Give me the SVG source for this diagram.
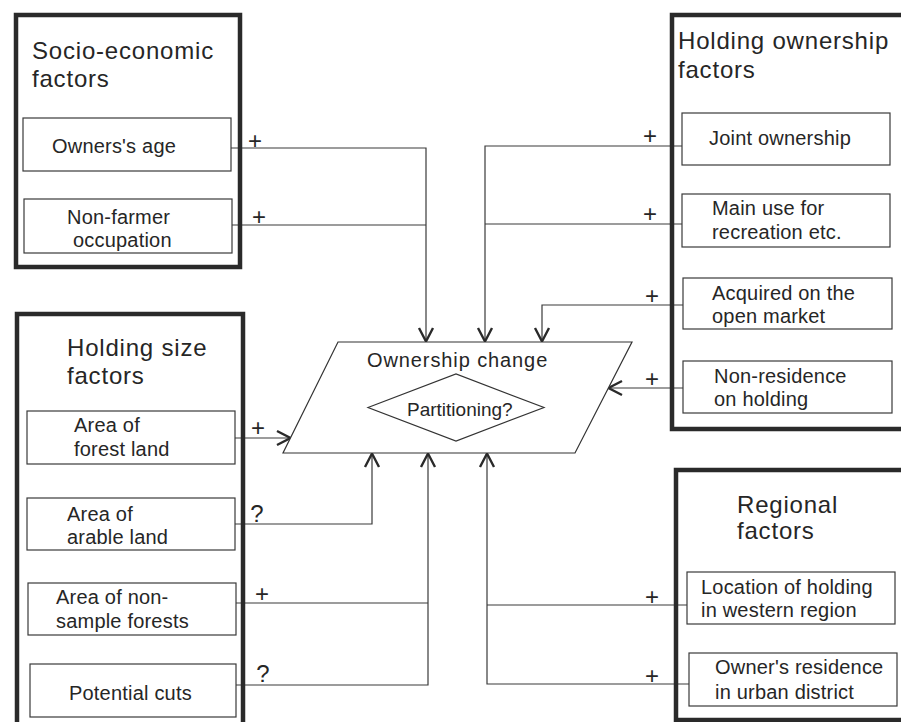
<svg xmlns="http://www.w3.org/2000/svg" width="901" height="722" viewBox="0 0 901 722">
<style>
text { font-family: "Liberation Sans", Arial, sans-serif; fill: #262626; }
.title { font-size: 24px; letter-spacing: 0.8px; }
.item { font-size: 20px; letter-spacing: 0.2px; }
.sign { font-size: 24px; text-anchor: middle; }
.outer { fill: none; stroke: #2a2a2a; stroke-width: 4.5; }
.inner { fill: #fff; stroke: #3a3a3a; stroke-width: 1.2; }
.conn { fill: none; stroke: #3a3a3a; stroke-width: 1.2; }
.shape { fill: #fff; stroke: #333; stroke-width: 1.2; }
</style>
<defs>
<marker id="arr" markerUnits="userSpaceOnUse" markerWidth="20" markerHeight="20" viewBox="-16 -10 20 20" refX="0" refY="0" orient="auto" overflow="visible">
<path d="M-14,-7 L-0.5,0 L-14,7" fill="none" stroke="#2a2a2a" stroke-width="2.4" stroke-linejoin="miter"/>
</marker>
</defs>
<rect width="901" height="722" fill="#fff"/>

<g id="connectors">
<path class="conn" d="M231,148 H426 V342" marker-end="url(#arr)"/>
<path class="conn" d="M232,225 H426"/>
<path class="conn" d="M682,146 H485 V342" marker-end="url(#arr)"/>
<path class="conn" d="M682,224 H485"/>
<path class="conn" d="M683,305 H542 V342" marker-end="url(#arr)"/>
<path class="conn" d="M683,388 H608" marker-end="url(#arr)"/>
<path class="conn" d="M235,438 H291" marker-end="url(#arr)"/>
<path class="conn" d="M235,524 H372 V453" marker-end="url(#arr)"/>
<path class="conn" d="M236,603 H428"/>
<path class="conn" d="M236,685 H428 V453" marker-end="url(#arr)"/>
<path class="conn" d="M687,605 H487"/>
<path class="conn" d="M689,684 H487 V453" marker-end="url(#arr)"/>
<text class="sign" x="255" y="149">+</text>
<text class="sign" x="259" y="225">+</text>
<text class="sign" x="650" y="144">+</text>
<text class="sign" x="650" y="222">+</text>
<text class="sign" x="652" y="304">+</text>
<text class="sign" x="652" y="387">+</text>
<text class="sign" x="258" y="436">+</text>
<text class="sign" x="257" y="522">?</text>
<text class="sign" x="262" y="602">+</text>
<text class="sign" x="263" y="682">?</text>
<text class="sign" x="652" y="605">+</text>
<text class="sign" x="652" y="684">+</text>
</g>

<g id="socio-economic">
<rect class="outer" x="16" y="15" width="224" height="252"/>
<text class="title" x="32" y="59">Socio-economic</text>
<text class="title" x="32" y="87">factors</text>
</g>
<g id="owners-age">
<rect class="inner" x="23" y="118" width="208" height="53"/>
<text class="item" x="52" y="153">Owners's age</text>
</g>
<g id="non-farmer">
<rect class="inner" x="24" y="199" width="208" height="54"/>
<text class="item" x="67" y="224">Non-farmer</text>
<text class="item" x="73" y="247">occupation</text>
</g>

<g id="holding-ownership">
<rect class="outer" x="672" y="15" width="240" height="414"/>
<text class="title" x="678" y="49">Holding ownership</text>
<text class="title" x="678" y="78">factors</text>
</g>
<g id="joint-ownership">
<rect class="inner" x="682" y="113" width="208" height="52"/>
<text class="item" x="709" y="145">Joint ownership</text>
</g>
<g id="main-use">
<rect class="inner" x="682" y="194" width="208" height="53"/>
<text class="item" x="712" y="215">Main use for</text>
<text class="item" x="712" y="239">recreation etc.</text>
</g>
<g id="acquired">
<rect class="inner" x="683" y="278" width="209" height="51"/>
<text class="item" x="712" y="300">Acquired on the</text>
<text class="item" x="712" y="323">open market</text>
</g>
<g id="non-residence">
<rect class="inner" x="683" y="361" width="209" height="52"/>
<text class="item" x="714" y="383">Non-residence</text>
<text class="item" x="714" y="406">on holding</text>
</g>

<g id="holding-size">
<rect class="outer" x="17" y="314" width="226" height="420"/>
<text class="title" x="67" y="356">Holding size</text>
<text class="title" x="67" y="384">factors</text>
</g>
<g id="forest-land">
<rect class="inner" x="27" y="411" width="208" height="53"/>
<text class="item" x="74" y="432">Area of</text>
<text class="item" x="74" y="456">forest land</text>
</g>
<g id="arable-land">
<rect class="inner" x="27" y="498" width="208" height="52"/>
<text class="item" x="67" y="521">Area of</text>
<text class="item" x="67" y="544">arable land</text>
</g>
<g id="non-sample">
<rect class="inner" x="28" y="583" width="208" height="52"/>
<text class="item" x="56" y="604">Area of non-</text>
<text class="item" x="56" y="628">sample forests</text>
</g>
<g id="potential-cuts">
<rect class="inner" x="30" y="664" width="206" height="53"/>
<text class="item" x="69" y="700">Potential cuts</text>
</g>

<g id="regional">
<rect class="outer" x="676" y="470" width="240" height="250"/>
<text class="title" x="737" y="513">Regional</text>
<text class="title" x="737" y="539">factors</text>
</g>
<g id="location">
<rect class="inner" x="687" y="572" width="208" height="52"/>
<text class="item" x="701" y="594">Location of holding</text>
<text class="item" x="701" y="617">in western region</text>
</g>
<g id="owners-residence">
<rect class="inner" x="689" y="653" width="208" height="53"/>
<text class="item" x="715" y="674">Owner's residence</text>
<text class="item" x="715" y="699">in urban district</text>
</g>

<g id="ownership-change">
<polygon class="shape" points="338,342 632,342 575,453 283,453"/>
<text x="367" y="367" style="font-size:20px;letter-spacing:0.9px">Ownership change</text>
</g>
<g id="partitioning">
<polygon class="shape" points="368,407.5 456,374 544,407.5 456,441"/>
<text x="407" y="416" style="font-size:19px">Partitioning?</text>
</g>
</svg>
